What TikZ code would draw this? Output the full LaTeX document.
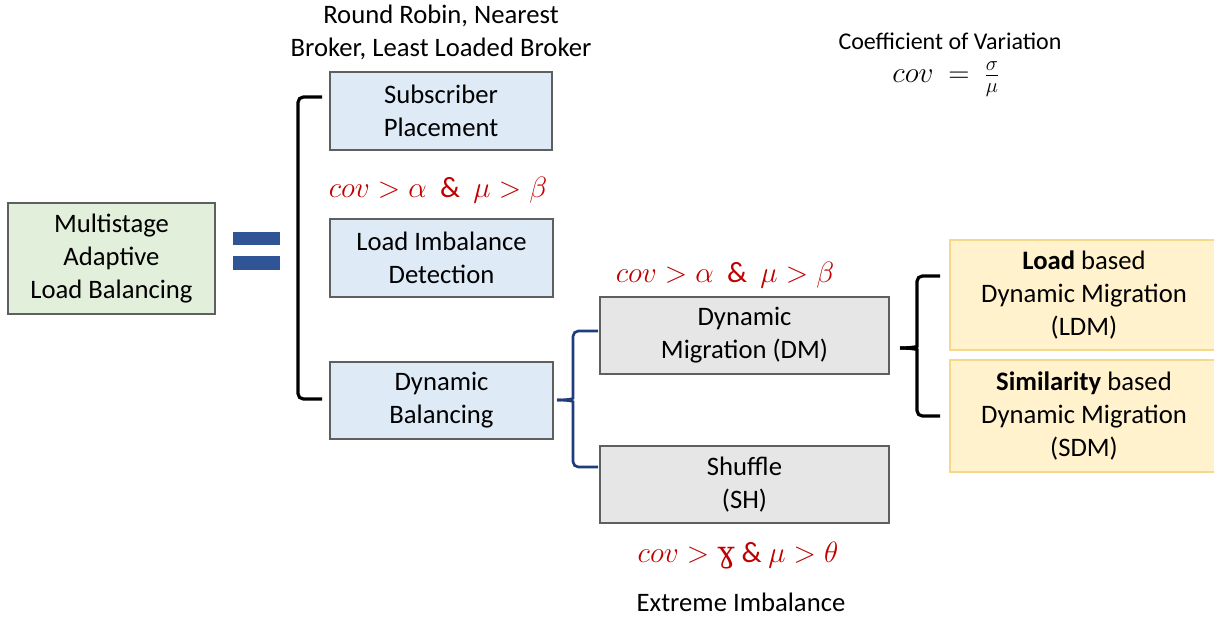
\RequirePackage{fix-cm}
\documentclass[tikz,border=0pt]{standalone}
\usepackage{fontspec}
\setmainfont{Carlito}
\newfontfamily\gamfont{DejaVu Serif}
\definecolor{boxline}{HTML}{5F5F5F}
\definecolor{greenfill}{HTML}{E2EFDA}
\definecolor{bluefill}{HTML}{DEEBF7}
\definecolor{grayfill}{HTML}{E7E6E6}
\definecolor{yellowfill}{HTML}{FFF2CC}
\definecolor{yellowline}{HTML}{F5D88A}
\definecolor{eqblue}{HTML}{2F5597}
\definecolor{bracenavy}{HTML}{1F3D7A}
\definecolor{condred}{HTML}{C00000}
\tikzset{
  txt/.style={font=\fontsize{20}{24.7}\selectfont, align=center, inner sep=0pt},
  basebox/.style={txt, draw=boxline, line width=1.4pt},
  greenbox/.style={basebox, fill=greenfill},
  bluebox/.style={basebox, fill=bluefill},
  graybox/.style={basebox, fill=grayfill},
  yellowbox/.style={basebox, draw=yellowline, fill=yellowfill},
  cond/.style={txt, font=\fontsize{22}{25}\selectfont, text=condred},
  bracket/.style={line width=2.4pt, rounded corners=4pt},
}
\begin{document}
\begin{tikzpicture}[x=0.75pt, y=-0.75pt]
\useasboundingbox (0,0) rectangle (1214,617);

% boxes
\node[greenbox, minimum width=207*0.75pt, minimum height=111*0.75pt] (mal) at (111.5,258.5) {Multistage\\Adaptive\\Load Balancing};
\node[bluebox, minimum width=222*0.75pt, minimum height=78*0.75pt] (sp) at (441,111) {Subscriber\\Placement};
\node[bluebox, minimum width=223*0.75pt, minimum height=78*0.75pt] (lid) at (441.5,258) {Load Imbalance\\Detection};
\node[bluebox, minimum width=223*0.75pt, minimum height=77*0.75pt] (db) at (441.5,400.5) {Dynamic\\Balancing};
\node[graybox, minimum width=289*0.75pt, minimum height=77*0.75pt] (dm) at (744.5,335.5) {Dynamic\\Migration (DM)};
\node[graybox, minimum width=289*0.75pt, minimum height=77*0.75pt] (sh) at (744.5,484.5) {Shuffle\\(SH)};
\node[yellowbox, minimum width=268*0.75pt, minimum height=110*0.75pt] (ldm) at (1084,295) {\textbf{Load} based\\Dynamic Migration\\(LDM)};
\node[yellowbox, minimum width=268*0.75pt, minimum height=112*0.75pt] (sdm) at (1084,416) {\textbf{Similarity} based\\Dynamic Migration\\(SDM)};

% equals sign
\fill[eqblue] (233,232) rectangle (280,245);
\fill[eqblue] (233,256) rectangle (280,270);

% labels
\node[txt] (strat) at (441,32) {Round Robin, Nearest\\Broker, Least Loaded Broker};
\node[cond] (c1) at (438,190) {$cov > \alpha\ \ \mbox{\&}\ \ \mu > \beta$};
\node[cond] (c2) at (725,275) {$cov > \alpha\ \ \mbox{\&}\ \ \mu > \beta$};
\node[cond] (c3) at (738,556) {$cov > \mbox{\gamfont ɣ}\ \mbox{\&}\ \mu > \theta$};
\node[txt] (ext) at (741,602) {Extreme Imbalance};
\node[txt, font=\fontsize{18}{22}\selectfont] (covt) at (950,41) {Coefficient of Variation};
\node[txt, font=\fontsize{22}{24}\selectfont] (cove) at (946,79) {$cov\ =\ \frac{\sigma}{\mu}$};

% first-level bracket
\coordinate (b1top) at (322,97);
\coordinate (b1bot) at (322,399);
\draw[bracket] (b1top) -- (298,97) -- (298,399) -- (b1bot);

% second-level brace (navy)
\coordinate (b2tip) at (557,400);
\coordinate (b2top) at (598,331);
\coordinate (b2bot) at (598,467);
\draw[bracket, line width=2pt, draw=bracenavy] (b2top) -- (573,331) -- (573,393) .. controls (573,399) and (566,400) .. (b2tip);
\draw[bracket, line width=2pt, draw=bracenavy] (b2tip) .. controls (566,400) and (573,401) .. (573,407) -- (573,467) -- (b2bot);

% third-level brace (black)
\coordinate (b3tip) at (900,348);
\coordinate (b3top) at (940,276);
\coordinate (b3bot) at (940,416);
\draw[bracket] (b3top) -- (917,276) -- (917,341) .. controls (917,347) and (909,348) .. (b3tip);
\draw[bracket] (b3tip) .. controls (909,348) and (917,349) .. (917,355) -- (917,416) -- (b3bot);
\end{tikzpicture}
\end{document}
